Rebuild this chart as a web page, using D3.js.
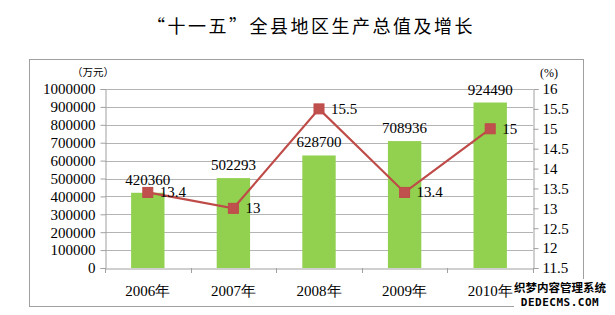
<!DOCTYPE html>
<html><head><meta charset="utf-8">
<script src="https://cdn.jsdelivr.net/npm/d3@7"></script>
<style>body{margin:0;background:#fff}svg{display:block}</style>
</head><body>
<svg id="c" width="615" height="315"></svg>
<script>
const categories = ["2006年","2007年","2008年","2009年","2010年"];
const gdpValues = [420360, 502293, 628700, 708936, 924490];
const growthValues = [13.4, 13, 15.5, 13.4, 15];
const leftTicks = [0,100000,200000,300000,400000,500000,600000,700000,800000,900000,1000000];
const rightTicks = [11.5,12,12.5,13,13.5,14,14.5,15,15.5,16];

const svg = d3.select("#c");
const serif = "Liberation Serif, DejaVu Serif, serif";
const cjk = "Noto Sans CJK SC, sans-serif";
const L = 105, R = 533, T = 89, B = 268;

// frame
svg.append("rect").attr("x",29.5).attr("y",59.5).attr("width",554).attr("height",247)
  .attr("fill","none").attr("stroke","#a0a0a0").attr("stroke-width",1);

// title
svg.append("text").attr("x",311).attr("y",33).attr("text-anchor","middle")
  .style("font-family",cjk).attr("font-size",18).attr("letter-spacing",2.5).attr("fill","#000")
  .text("“十一五”全县地区生产总值及增长");

const x = d3.scaleBand().domain(categories).range([L,R]).paddingInner(0.61).paddingOuter(0.305);
const band = d3.scaleBand().domain(categories).range([L,R]);
const y = d3.scaleLinear().domain([0,1000000]).range([B,T]);
const y2 = d3.scaleLinear().domain([11.5,16]).range([B,T]);

// gridlines
svg.append("g").selectAll("line").data(leftTicks.slice(1)).join("line")
  .attr("x1",L).attr("x2",R).attr("y1",d=>Math.round(y(d))+0.5).attr("y2",d=>Math.round(y(d))+0.5)
  .attr("stroke","#b4b4b4").attr("stroke-width",1);

// left axis
const la = svg.append("g").attr("transform",`translate(${L+0.5},0)`)
  .call(d3.axisLeft(y).tickValues(leftTicks).tickFormat(d3.format("d")).tickSize(5).tickPadding(5));
la.selectAll("text").style("font-family",serif).attr("font-size",15).attr("fill","#000");
la.selectAll("line,path").attr("stroke","#a0a0a0");

// right axis
const ra = svg.append("g").attr("transform",`translate(${R+0.5},0)`)
  .call(d3.axisRight(y2).tickValues(rightTicks).tickFormat(d=>String(d)).tickSize(5).tickPadding(4));
ra.selectAll("text").style("font-family",serif).attr("font-size",15).attr("fill","#000");
ra.selectAll("line,path").attr("stroke","#a0a0a0");

// bars
svg.append("g").selectAll("rect").data(gdpValues).join("rect")
  .attr("x",(d,i)=>x(categories[i])).attr("width",x.bandwidth())
  .attr("y",d=>y(d)).attr("height",d=>B-y(d)).attr("fill","#92d050");

// bottom axis
const ba = svg.append("g").attr("transform",`translate(0,${B+0.5})`)
  .call(d3.axisBottom(band).tickSize(0).tickPadding(17));
ba.selectAll("text").style("font-family",serif).attr("font-size",15).attr("fill","#000");
ba.selectAll("path").attr("stroke","#a0a0a0");
const bticks = [L, ...categories.map(c=>band(c)+band.bandwidth())];
svg.append("g").selectAll("line").data(bticks).join("line")
  .attr("x1",d=>Math.round(d)+0.5).attr("x2",d=>Math.round(d)+0.5).attr("y1",B).attr("y2",B+5)
  .attr("stroke","#a0a0a0");

// bar labels
svg.append("g").selectAll("text").data(gdpValues).join("text")
  .attr("x",(d,i)=>x(categories[i])+x.bandwidth()/2).attr("y",d=>y(d)-8)
  .attr("text-anchor","middle").style("font-family",serif).attr("font-size",15).attr("fill","#000")
  .text(d=>d);

// line
const cx = (d,i)=>band(categories[i])+band.bandwidth()/2;
svg.append("path").datum(growthValues)
  .attr("d",d3.line().x(cx).y(d=>y2(d)))
  .attr("fill","none").attr("stroke","#be4b48").attr("stroke-width",2.2);
svg.append("g").selectAll("rect").data(growthValues).join("rect")
  .attr("x",(d,i)=>cx(d,i)-5).attr("y",d=>y2(d)-5).attr("width",10).attr("height",10)
  .attr("fill","#c0504d").attr("stroke","#be4b48");
svg.append("g").selectAll("text").data(growthValues).join("text")
  .attr("x",(d,i)=>cx(d,i)+12).attr("y",d=>y2(d)+5)
  .style("font-family",serif).attr("font-size",15).attr("fill","#000")
  .text(d=>String(d));

// unit labels
svg.append("text").attr("x",93).attr("y",76).attr("text-anchor","middle")
  .style("font-family",cjk).attr("font-size",10.5).attr("fill","#000").text("（万元）");
svg.append("text").attr("x",549).attr("y",77).attr("text-anchor","middle")
  .style("font-family",serif).attr("font-size",12).attr("fill","#000").text("(%)");

// watermark
const wm = svg.append("g");
wm.append("rect").attr("x",514).attr("y",279).attr("width",92).attr("height",30).attr("fill","#fff");
wm.append("text").attr("x",560).attr("y",292).attr("text-anchor","middle")
  .style("font-family",cjk).attr("font-weight","bold").attr("font-size",11.5).attr("fill","#000")
  .text("织梦内容管理系统");
wm.append("text").attr("x",560).attr("y",306).attr("text-anchor","middle")
  .style("font-family","DejaVu Sans Mono, monospace").attr("font-weight","bold").attr("font-size",11).attr("fill","#000")
  .attr("letter-spacing",0.5).text("DEDECMS.COM");
</script>
</body></html>
